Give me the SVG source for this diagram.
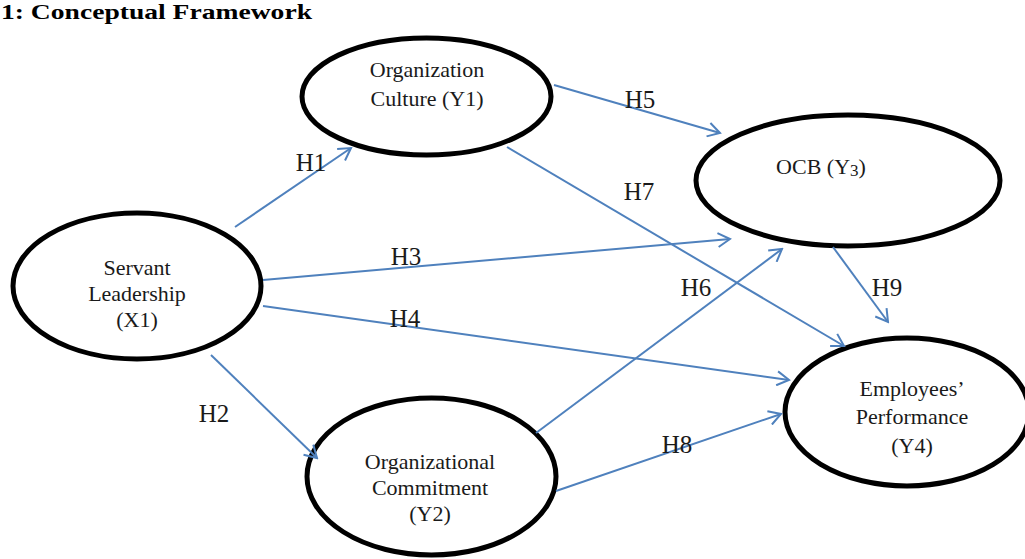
<svg xmlns="http://www.w3.org/2000/svg" width="1025" height="559" viewBox="0 0 1025 559">
<style>
.node{fill:#fff;stroke:#000;stroke-width:5}
.lbl{font-family:"Liberation Serif",serif;font-size:22px;fill:#1a1a1a;text-anchor:middle}
.h{font-family:"Liberation Serif",serif;font-size:25px;fill:#1a1a1a;text-anchor:middle}
.edge{stroke:#4F81BD;stroke-width:2;fill:none;marker-end:url(#arr)}
.title{font-family:"Liberation Serif",serif;font-size:21px;font-weight:bold;fill:#000}
</style>
<defs>
<marker id="arr" viewBox="0 0 16 16" refX="14" refY="8" markerWidth="16" markerHeight="16" markerUnits="userSpaceOnUse" orient="auto">
<path d="M2,1 L14,8 L2,15" fill="none" stroke="#4F81BD" stroke-width="2"/>
</marker>
</defs>
<rect width="1025" height="559" fill="#fff"/>
<text class="title" x="1" y="19" textLength="311" lengthAdjust="spacingAndGlyphs">1: Conceptual Framework</text>

<g id="n-culture">
<ellipse class="node" cx="426.5" cy="96.5" rx="124.5" ry="58.5"/>
<text class="lbl" x="427" y="77">Organization</text>
<text class="lbl" x="427" y="106">Culture (Y1)</text>
</g>
<g id="n-ocb">
<ellipse class="node" cx="848" cy="180.5" rx="152" ry="65.5"/>
<text class="lbl" x="821" y="174">OCB (Y<tspan font-size="17" dy="2">3</tspan><tspan dy="-2">)</tspan></text>
</g>
<g id="n-servant">
<ellipse class="node" cx="137" cy="286" rx="124" ry="73"/>
<text class="lbl" x="137" y="275">Servant</text>
<text class="lbl" x="137" y="301">Leadership</text>
<text class="lbl" x="137" y="327">(X1)</text>
</g>
<g id="n-perf">
<ellipse class="node" cx="907" cy="412" rx="122" ry="74"/>
<text class="lbl" x="912" y="396">Employees’</text>
<text class="lbl" x="912" y="424">Performance</text>
<text class="lbl" x="912" y="453">(Y4)</text>
</g>
<g id="n-commit">
<ellipse class="node" cx="431.5" cy="476.5" rx="124.5" ry="78.5"/>
<text class="lbl" x="430" y="469">Organizational</text>
<text class="lbl" x="430" y="495">Commitment</text>
<text class="lbl" x="430" y="521">(Y2)</text>
</g>

<g id="connectors">
<line class="edge" x1="235" y1="227" x2="351" y2="148"/>
<line class="edge" x1="554" y1="85" x2="720" y2="133"/>
<line class="edge" x1="507" y1="147" x2="844" y2="346"/>
<line class="edge" x1="263" y1="280" x2="730" y2="239"/>
<line class="edge" x1="263" y1="306" x2="789" y2="380"/>
<line class="edge" x1="536" y1="433" x2="782" y2="249"/>
<line class="edge" x1="833" y1="247" x2="888" y2="322"/>
<line class="edge" x1="211" y1="355" x2="317" y2="458"/>
<line class="edge" x1="556" y1="491" x2="781" y2="414"/>
<text class="h" x="311" y="171">H1</text>
<text class="h" x="214" y="422">H2</text>
<text class="h" x="406" y="265">H3</text>
<text class="h" x="405" y="327">H4</text>
<text class="h" x="640" y="108">H5</text>
<text class="h" x="696" y="296">H6</text>
<text class="h" x="639" y="200">H7</text>
<text class="h" x="677" y="453">H8</text>
<text class="h" x="887" y="296">H9</text>
</g>
</svg>
